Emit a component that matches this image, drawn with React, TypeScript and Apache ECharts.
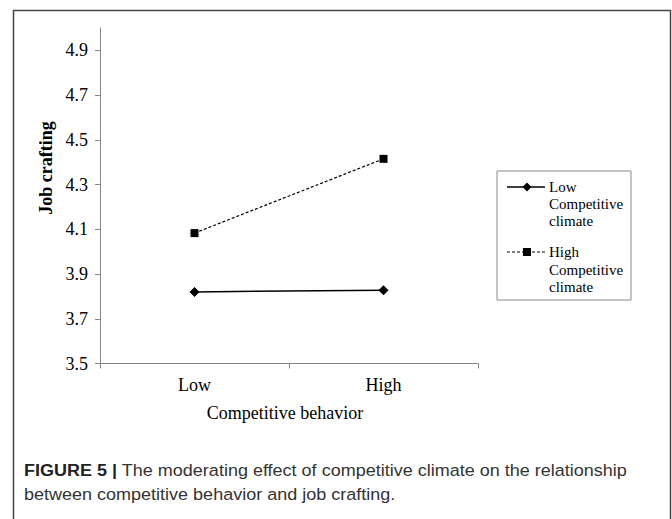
import React, { useEffect, useRef } from "react";
import * as echarts from "echarts";

const categories = ["Low", "High"];
const lowClimate = [3.82, 3.828];
const highClimate = [4.083, 4.415];
const yTicks = [3.5, 3.7, 3.9, 4.1, 4.3, 4.5, 4.7, 4.9];
const seriesNames = ["Low\nCompetitive\nclimate", "High\nCompetitive\nclimate"];
const yTitle = "Job crafting";
const xTitle = "Competitive behavior";
const captionBold = "FIGURE 5 |";
const captionLine1 = " The moderating effect of competitive climate on the relationship";
const captionLine2 = "between competitive behavior and job crafting.";

const SERIF = "'Liberation Serif', 'Times New Roman', serif";
const SANS = "'Liberation Sans', Arial, sans-serif";

export default function App() {
  const ref = useRef<HTMLDivElement>(null);
  useEffect(() => {
    if (!ref.current) return;
    const chart = echarts.init(ref.current, null, { renderer: "svg" });
    const axisColor = "#868686";
    chart.setOption({
      animation: false,
      backgroundColor: "#ffffff",
      grid: { left: 100, right: 194, top: 28, bottom: 155.5 },
      xAxis: {
        type: "category",
        data: categories,
        boundaryGap: true,
        name: xTitle,
        nameLocation: "middle",
        nameGap: 40,
        nameTextStyle: { fontFamily: SERIF, fontSize: 18, color: "#000", padding: [0, 8, 0, 0] },
        axisLine: { show: true, lineStyle: { color: axisColor, width: 1 } },
        axisTick: { show: true, length: 5, lineStyle: { color: axisColor } },
        axisLabel: { fontFamily: SERIF, fontSize: 18, color: "#000", margin: 12 },
        splitLine: { show: false },
      },
      yAxis: {
        type: "value",
        min: 3.5,
        max: 5.0,
        axisLine: { show: true, lineStyle: { color: axisColor, width: 1 } },
        axisTick: { show: true, length: 5, customValues: yTicks, lineStyle: { color: axisColor } },
        axisLabel: {
          customValues: yTicks,
          formatter: (v: number) => v.toFixed(1),
          fontFamily: SERIF,
          fontSize: 18,
          color: "#000",
          margin: 12,
        },
        splitLine: { show: false },
      },
      series: [
        {
          name: seriesNames[0],
          type: "line",
          data: lowClimate,
          symbol: "diamond",
          symbolSize: 10,
          lineStyle: { color: "#000", width: 1.5 },
          itemStyle: { color: "#000" },
        },
        {
          name: seriesNames[1],
          type: "line",
          data: highClimate,
          symbol: "rect",
          symbolSize: 8,
          lineStyle: { color: "#000", width: 1.2, type: [3, 2] },
          itemStyle: { color: "#000" },
        },
      ],
      graphic: [
        {
          type: "rect",
          z: 0,
          shape: { x: 13.5, y: 10.5, width: 657, height: 530 },
          style: { fill: "transparent", stroke: "#444", lineWidth: 1.5 },
        },
        {
          type: "text",
          x: 46,
          y: 168,
          rotation: Math.PI / 2,
          style: {
            text: yTitle,
            fontFamily: SERIF,
            fontSize: 18,
            fontWeight: "bold",
            fill: "#000",
            align: "center",
            verticalAlign: "middle",
          },
        },
        {
          type: "rect",
          shape: { x: 497, y: 171, width: 134, height: 129 },
          style: { fill: "#fff", stroke: "#888", lineWidth: 1 },
        },
        {
          type: "line",
          shape: { x1: 507, y1: 187, x2: 545, y2: 187 },
          style: { stroke: "#000", lineWidth: 1.5 },
        },
        {
          type: "polygon",
          shape: { points: [[527, 182.5], [531.5, 187], [527, 191.5], [522.5, 187]] },
          style: { fill: "#000" },
        },
        {
          type: "text",
          x: 549,
          y: 178.5,
          style: {
            text: seriesNames[0],
            fontFamily: SERIF,
            fontSize: 15,
            lineHeight: 17,
            fill: "#000",
            verticalAlign: "top",
          },
        },
        {
          type: "line",
          shape: { x1: 507, y1: 252, x2: 546, y2: 252 },
          style: { stroke: "#000", lineWidth: 1.2, lineDash: [3, 2] },
        },
        {
          type: "rect",
          shape: { x: 523, y: 248, width: 8, height: 8 },
          style: { fill: "#000" },
        },
        {
          type: "text",
          x: 549,
          y: 243.5,
          style: {
            text: seriesNames[1],
            fontFamily: SERIF,
            fontSize: 15,
            lineHeight: 17.5,
            fill: "#000",
            verticalAlign: "top",
          },
        },
        {
          type: "text",
          x: 24,
          y: 470,
          scaleX: 1.06,
          style: {
            text: "{b|" + captionBold + "}" + captionLine1,
            fontFamily: SANS,
            fontSize: 17,
            fill: "#333",
            verticalAlign: "middle",
            rich: {
              b: { fontFamily: SANS, fontSize: 17, fontWeight: "bold", fill: "#222" },
            },
          },
        },
        {
          type: "text",
          x: 24,
          y: 494.5,
          scaleX: 1.06,
          style: {
            text: captionLine2,
            fontFamily: SANS,
            fontSize: 17,
            fill: "#333",
            verticalAlign: "middle",
          },
        },
      ],
    });
    return () => chart.dispose();
  }, []);
  return (
    <div
      ref={ref}
      style={{ position: "fixed", left: 0, top: 0, width: 672, height: 519, background: "#fff" }}
    />
  );
}
